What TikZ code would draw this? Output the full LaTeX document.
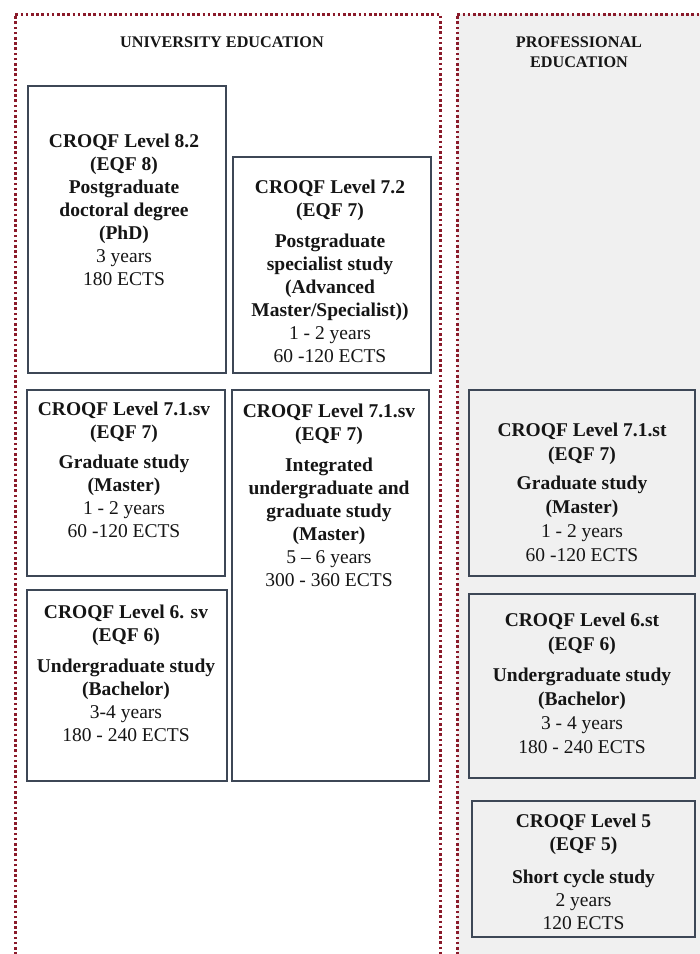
\documentclass[tikz,border=0pt]{standalone}
\usepackage{fontspec}
\setmainfont{Liberation Serif}
\definecolor{framered}{HTML}{8A1A2A}
\definecolor{boxline}{HTML}{3D4756}
\definecolor{bggray}{HTML}{F0F0F0}
\definecolor{textblack}{HTML}{151515}
\newcommand{\rg}[1]{\textmd{#1}}
\tikzset{
  frameline/.style={draw=framered, line width=3pt, dash pattern=on 2.6pt off 2.6pt},
  levelbox/.style={draw=boxline, line width=1.2pt, inner sep=0pt},
  whitebox/.style={levelbox, fill=white},
  graybox/.style={levelbox, fill=bggray},
  boxtext/.style={anchor=north, align=center, inner sep=0pt, text=textblack,
    font=\fontsize{19.5}{23}\selectfont\bfseries},
  titletext/.style={anchor=north, align=center, inner sep=0pt, text=textblack,
    font=\fontsize{16.2}{20}\selectfont\bfseries}
}
\begin{document}
\begin{tikzpicture}[x=1pt,y=-1pt]
\useasboundingbox (0,0) rectangle (700,954);
\fill[white] (0,0) rectangle (700,954);
\fill[bggray] (457,14) rectangle (700,954);
\begin{scope}
\clip (0,0) rectangle (700,954);
\draw[frameline] (15,960) -- (15,14) -- (440,14) -- (440,960);
\draw[frameline] (457,960) -- (457,14) -- (710,14);
\end{scope}

\node[titletext] (univtitle) at (222,37) {UNIVERSITY EDUCATION};
\node[titletext] (proftitle) at (579,37) {PROFESSIONAL\\EDUCATION};

% boxes
\node[whitebox, minimum width=198, minimum height=287] (phd) at (127,229.5) {};
\node[whitebox, minimum width=198, minimum height=216] (spec) at (332,265) {};
\node[whitebox, minimum width=198, minimum height=186] (gradsv) at (126,483) {};
\node[whitebox, minimum width=200, minimum height=191] (undersv) at (127,685.5) {};
\node[whitebox, minimum width=197, minimum height=391] (integ) at (330.5,585.5) {};
\node[graybox, minimum width=226, minimum height=186] (gradst) at (582,483) {};
\node[graybox, minimum width=226, minimum height=184] (underst) at (582,686) {};
\node[graybox, minimum width=223, minimum height=136] (short) at (583.5,869) {};

% texts
\node[boxtext] (phdtext) at (124,134) {CROQF Level 8.2\\(EQF 8)\\Postgraduate\\doctoral degree\\(PhD)\\\rg{3 years}\\\rg{180 ECTS}};
\node[boxtext] (spectext) at (330,180) {CROQF Level 7.2\\(EQF 7)\\[8pt]Postgraduate\\specialist study\\(Advanced\\Master/Specialist))\\\rg{1 - 2 years}\\\rg{60 -120 ECTS}};
\node[boxtext] (gradsvtext) at (124,402) {CROQF Level 7.1.sv\\(EQF 7)\\[7pt]Graduate study\\(Master)\\\rg{1 - 2 years}\\\rg{60 -120 ECTS}};
\node[boxtext] (undersvtext) at (126,605) {CROQF Level 6. sv\\(EQF 6)\\[8pt]Undergraduate study\\(Bachelor)\\\rg{3-4 years}\\\rg{180 - 240 ECTS}};
\node[boxtext] (integtext) at (329,404) {CROQF Level 7.1.sv\\(EQF 7)\\[8pt]Integrated\\undergraduate and\\graduate study\\(Master)\\\rg{5 -- 6 years}\\\rg{300 - 360 ECTS}};
\node[boxtext, font=\fontsize{19.5}{24.2}\selectfont\bfseries] (gradsttext) at (582,423) {CROQF Level 7.1.st\\(EQF 7)\\[4pt]Graduate study\\(Master)\\\rg{1 - 2 years}\\\rg{60 -120 ECTS}};
\node[boxtext, font=\fontsize{19.5}{24}\selectfont\bfseries] (understtext) at (582,613) {CROQF Level 6.st\\(EQF 6)\\[7pt]Undergraduate study\\(Bachelor)\\\rg{3 - 4 years}\\\rg{180 - 240 ECTS}};
\node[boxtext] (shorttext) at (583.5,814) {CROQF Level 5\\(EQF 5)\\[10pt]Short cycle study\\\rg{2 years}\\\rg{120 ECTS}};
\end{tikzpicture}
\end{document}
